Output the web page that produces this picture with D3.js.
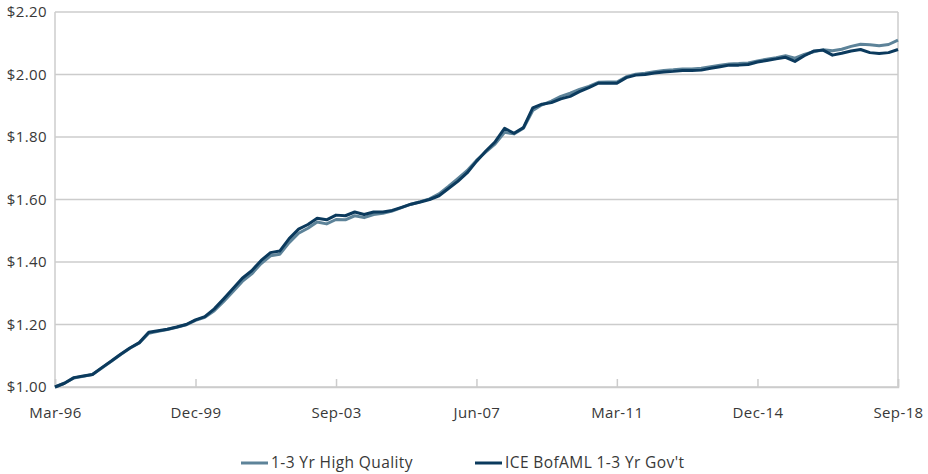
<!DOCTYPE html>
<html>
<head>
<meta charset="utf-8">
<script src="https://cdn.jsdelivr.net/npm/d3@7"></script>
<style>
  body { margin: 0; background: #fff; }
  svg text { font-family: "Open Sans", "DejaVu Sans", sans-serif; fill: #383838; letter-spacing: 0.4px; }
</style>
</head>
<body>
<svg id="chart" width="928" height="474"></svg>
<script>
// Quarterly growth of $1, starting Mar-96
const startMonth = new Date(1996, 2, 1);

const highQuality = [
  1.000, 1.012, 1.029, 1.034, 1.040, 1.061, 1.082, 1.104, 1.124, 1.141,
  1.172, 1.178, 1.184, 1.191, 1.199, 1.213, 1.223, 1.244, 1.274, 1.306,
  1.338, 1.362, 1.395, 1.420, 1.425, 1.462, 1.492, 1.508, 1.528, 1.522,
  1.536, 1.535, 1.548, 1.542, 1.552, 1.556, 1.563, 1.574, 1.585, 1.593,
  1.602, 1.618, 1.642, 1.667, 1.692, 1.725, 1.752, 1.778, 1.815, 1.810,
  1.828, 1.885, 1.903, 1.915, 1.930, 1.940, 1.952, 1.962, 1.975, 1.976,
  1.976, 1.993, 2.001, 2.004, 2.009, 2.013, 2.015, 2.018, 2.018, 2.020,
  2.025, 2.030, 2.034, 2.035, 2.037, 2.043, 2.049, 2.054, 2.060, 2.052,
  2.064, 2.073, 2.079, 2.076, 2.081, 2.090, 2.097, 2.095, 2.092, 2.096,
  2.110
];

const govt = [
  1.000, 1.012, 1.030, 1.035, 1.040, 1.062, 1.083, 1.105, 1.125, 1.142,
  1.175, 1.180, 1.185, 1.192, 1.200, 1.215, 1.225, 1.250, 1.282, 1.315,
  1.348, 1.372, 1.405, 1.430, 1.435, 1.475, 1.505, 1.520, 1.540, 1.535,
  1.550, 1.548, 1.560, 1.552, 1.560, 1.560, 1.565, 1.575, 1.585, 1.592,
  1.600, 1.612, 1.635, 1.658, 1.685, 1.722, 1.755, 1.785, 1.828, 1.812,
  1.830, 1.893, 1.905, 1.910, 1.922, 1.930, 1.945, 1.958, 1.972, 1.972,
  1.972, 1.990, 1.998, 2.000, 2.005, 2.008, 2.010, 2.013, 2.013, 2.014,
  2.020, 2.025, 2.030, 2.030, 2.032, 2.040, 2.045, 2.050, 2.055, 2.042,
  2.060, 2.075, 2.078, 2.062, 2.068, 2.075, 2.080, 2.070, 2.067, 2.070,
  2.080
];

const yTicks = [1.00, 1.20, 1.40, 1.60, 1.80, 2.00, 2.20];
const xTickLabels = ["Mar-96", "Dec-99", "Sep-03", "Jun-07", "Mar-11", "Dec-14", "Sep-18"];
const seriesNames = ["1-3 Yr High Quality", "ICE BofAML 1-3 Yr Gov't"];
const seriesColors = ["#5d8399", "#0b3a5d"];

const svg = d3.select("#chart");
const margin = { left: 55, right: 30, top: 12, bottom: 87 };
const width = 928 - margin.left - margin.right;
const height = 474 - margin.top - margin.bottom;

const chart = svg.append("g")
  .attr("transform", `translate(${margin.left},${margin.top})`);

const parseTick = d3.timeParse("%b-%y");
const tickDates = xTickLabels.map(parseTick);

const xScale = d3.scaleTime()
  .domain([tickDates[0], tickDates[tickDates.length - 1]])
  .range([0, width]);

const yScale = d3.scaleLinear()
  .domain([1.0, 2.2])
  .range([height, 0]);

const dates = govt.map((d, i) => d3.timeMonth.offset(startMonth, i * 3));

// Gridlines
chart.append("g")
  .selectAll("line")
  .data(yTicks)
  .join("line")
  .attr("x1", 0)
  .attr("x2", width)
  .attr("y1", d => yScale(d))
  .attr("y2", d => yScale(d))
  .attr("stroke", "#cccccc")
  .attr("stroke-width", 1.5);

// Left and right borders
chart.append("line")
  .attr("x1", 0).attr("x2", 0)
  .attr("y1", 0).attr("y2", height)
  .attr("stroke", "#cccccc").attr("stroke-width", 1.5);
chart.append("line")
  .attr("x1", width).attr("x2", width)
  .attr("y1", 0).attr("y2", height)
  .attr("stroke", "#cccccc").attr("stroke-width", 1.5);

// Y axis labels
const yAxis = d3.axisLeft(yScale)
  .tickValues(yTicks)
  .tickSize(0)
  .tickPadding(8)
  .tickFormat(d => "$" + d3.format(".2f")(d));

const yAxisGroup = chart.append("g").call(yAxis);
yAxisGroup.select(".domain").remove();
yAxisGroup.selectAll("text")
  .style("font-size", "15px")
  .attr("fill", "#383838");

// X axis with inward ticks
const xAxis = d3.axisBottom(xScale)
  .tickValues(tickDates)
  .tickSize(-8)
  .tickPadding(20)
  .tickFormat((d, i) => xTickLabels[i]);

const xAxisGroup = chart.append("g")
  .attr("transform", `translate(0,${height})`)
  .call(xAxis);
xAxisGroup.select(".domain")
  .attr("stroke", "#cccccc").attr("stroke-width", 1.5);
xAxisGroup.selectAll(".tick line")
  .attr("stroke", "#cccccc").attr("stroke-width", 1.5);
xAxisGroup.selectAll("text")
  .style("font-size", "15px")
  .attr("fill", "#383838");

// Lines
const line = d3.line()
  .x((d, i) => xScale(dates[i]))
  .y(d => yScale(d));

chart.append("path")
  .datum(highQuality)
  .attr("fill", "none")
  .attr("stroke", seriesColors[0])
  .attr("stroke-width", 3)
  .attr("stroke-linejoin", "round")
  .attr("d", line);

chart.append("path")
  .datum(govt)
  .attr("fill", "none")
  .attr("stroke", seriesColors[1])
  .attr("stroke-width", 3)
  .attr("stroke-linejoin", "round")
  .attr("d", line);

// Legend
const legendX = [241, 475];
const legend = svg.append("g")
  .attr("transform", "translate(0,463)");

const items = legend.selectAll("g")
  .data(seriesNames)
  .join("g")
  .attr("transform", (d, i) => `translate(${legendX[i]},0)`);

items.append("line")
  .attr("x1", 0).attr("x2", 27)
  .attr("y1", 0).attr("y2", 0)
  .attr("stroke", (d, i) => seriesColors[i])
  .attr("stroke-width", 3);

items.append("text")
  .attr("x", 30)
  .attr("dy", "0.35em")
  .style("font-size", "15.5px")
  .text(d => d);
</script>
</body>
</html>
